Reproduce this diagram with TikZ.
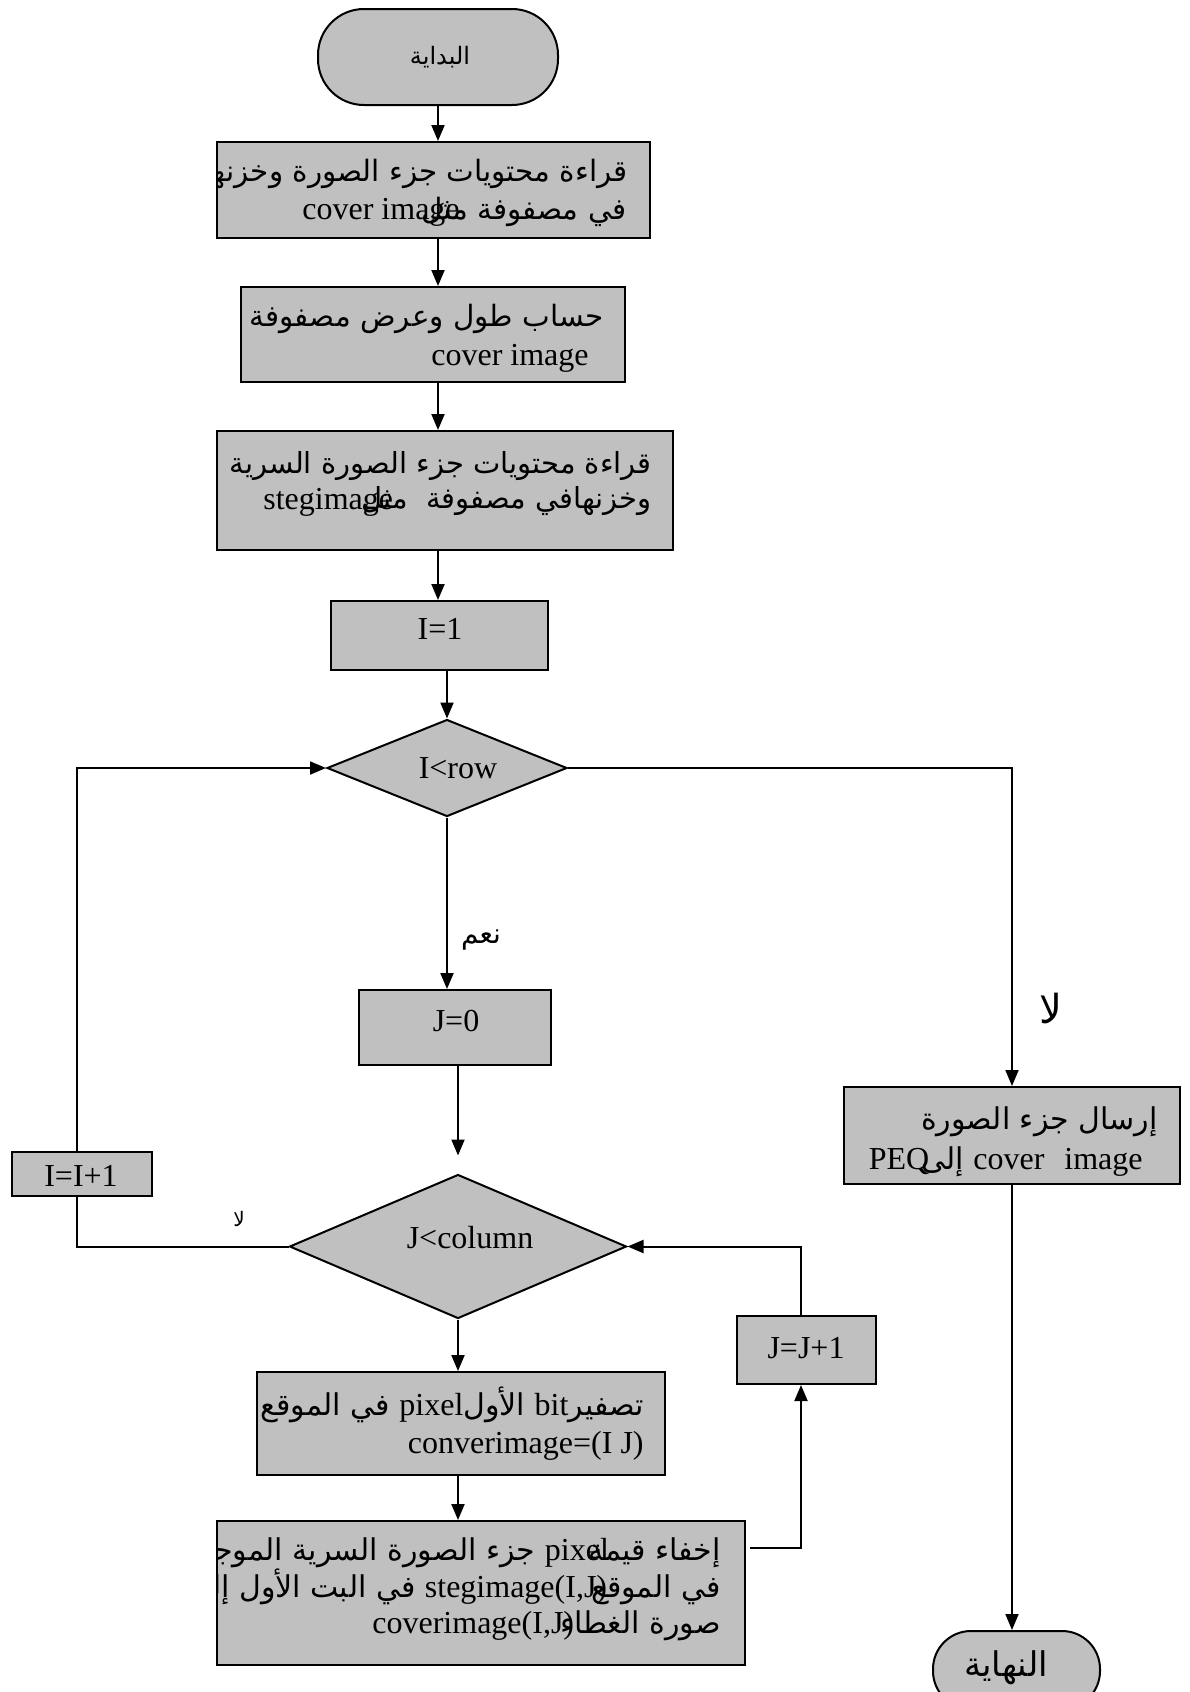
\documentclass[tikz,border=0pt]{standalone}
\usepackage{fontspec}
\setmainfont{Liberation Serif}
\newfontfamily\arfont[Script=Arabic]{DejaVu Sans}
\TeXXeTstate=1
\usetikzlibrary{arrows.meta,shapes.geometric}
\definecolor{boxgray}{RGB}{192,192,192}
\newcommand\arsz[1]{\arfont\fontsize{#1}{#1}\selectfont}
\newcommand\lasz[1]{\rmfamily\fontsize{#1}{#1}\selectfont}
\newcommand\LT[2][16]{\beginL{\lasz{#1}#2}\endL}
\begin{document}
\begin{tikzpicture}[x=0.5pt,y=-0.5pt,
  box/.style={draw,line width=1pt,fill=boxgray,rectangle,inner sep=0pt},
  dia/.style={draw,line width=1pt,fill=boxgray,diamond,inner sep=0pt},
  conn/.style={line width=1pt},
  arr/.style={conn,-{Triangle[length=8pt,width=6.5pt]}},
  txt/.style={inner sep=0pt},
  ar/.style={txt,font=\arsz{15}},
  la/.style={txt,font=\lasz{16}},
]
\useasboundingbox (0,0) rectangle (1189,1692);

% ---------- shapes ----------
\node[box,rounded corners=23pt,minimum width=120pt,minimum height=48pt] (start) at (438,57) {};
\node[box,minimum width=216.5pt,minimum height=48pt] (b1) at (433.5,190) {};
\node[box,minimum width=192pt,minimum height=47.5pt] (b2) at (433,334.5) {};
\node[box,minimum width=228pt,minimum height=59.5pt] (b3) at (445,490.5) {};
\node[box,minimum width=108.5pt,minimum height=34.5pt] (i1) at (439.5,635.5) {};
\node[dia,minimum width=120pt,minimum height=48.5pt] (d1) at (447,768) {};
\node[box,minimum width=96pt,minimum height=37.5pt] (j0) at (455,1027.5) {};
\node[dia,minimum width=168.5pt,minimum height=72pt] (d2) at (458,1246.5) {};
\node[box,minimum width=70pt,minimum height=22pt] (ii) at (82,1174) {};
\node[box,minimum width=69.5pt,minimum height=34pt] (jj) at (806.5,1350) {};
\node[box,minimum width=204pt,minimum height=51.5pt] (b5) at (461,1423.5) {};
\node[box,minimum width=264pt,minimum height=72pt] (b6) at (481,1593) {};
\node[box,minimum width=168pt,minimum height=48.5pt] (peq) at (1012,1135.5) {};
\node[box,rounded corners=19pt,minimum width=83.5pt,minimum height=39pt] (end) at (1016.5,1670) {};

% ---------- texts ----------
\node[txt,font=\arsz{12}] (tstart) at (440,57) {\beginR البداية\endR};
\node[txt,font=\arsz{17}] (tend) at (1006,1668) {\beginR النهاية\endR};

\begin{scope}
\clip (b1.south west) rectangle (b1.north east);
\node[txt,font=\arsz{14.7},anchor=base east] (t1a) at (628,181) {\beginR قراءة محتويات جزء الصورة وخزنها\endR};
\node[la,anchor=base west] (t1c) at (302,219) {cover image};
\node[txt,font=\arsz{14.7},anchor=base east] (t1b) at (627,219) {\beginR في مصفوفة مثل\endR};
\end{scope}

\node[txt,font=\arsz{14.7},anchor=base east] (t2a) at (604,326) {\beginR حساب طول وعرض مصفوفة\endR};
\node[la,anchor=base east] (t2b) at (589,365) {cover image};

\begin{scope}
\clip (b3.south west) rectangle (b3.north east);
\node[txt,font=\arsz{14.5},anchor=base east] (t3a) at (652,473) {\beginR قراءة محتويات جزء الصورة السرية\endR};
\node[la,anchor=base west] (t3c) at (263,509) {stegimage};
\node[txt,font=\arsz{14.5},anchor=base east] (t3b) at (652,508) {\beginR وخزنهافي مصفوفة\ \ مثل\endR};
\end{scope}

\node[la] (ti1) at (440,629) {I=1};
\node[la] (td1) at (458,768) {I<row};
\node[la] (tj0) at (456,1021) {J=0};
\node[la] (td2) at (470,1238) {J<column};
\node[la] (tii) at (81,1176) {I=I+1};
\node[la] (tjj) at (806,1348) {J=J+1};

\node[ar,anchor=base east] (tpa) at (1158,1129) {\beginR إرسال جزء الصورة\endR};
\node[ar,anchor=base east] (tpb) at (1143,1169) {\beginR\LT{cover\hskip 10pt image} إلى\kern-4pt\LT{PEQ}\endR};

\begin{scope}
\clip (b5.south west) rectangle (b5.north east);
\node[ar,anchor=base east] (t5a) at (644,1415) {\beginR تصفير\LT{bit} الأول\LT{pixel} في الموقع\endR};
\node[la,anchor=base east] (t5b) at (644,1453) {converimage=(I J)};
\end{scope}

\begin{scope}
\clip (b6.south west) rectangle (b6.north east);
\node[ar,anchor=base east] (t6a) at (721,1560) {\beginR إخفاء قيمة\kern-10pt\LT{pixel} جزء الصورة السرية الموجودة\endR};
\node[ar,anchor=base east] (t6b) at (721,1597) {\beginR في الموقع\kern-8pt\LT{stegimage(I,J)} في البت الأول إلى\endR};
\node[ar,anchor=base east] (t6c) at (721,1633) {\beginR صورة الغطاء\kern-7pt\LT{coverimage(I,J)}\endR};
\end{scope}

\node[txt,font=\arsz{14}] (yes) at (481,940) {\beginR نعم\endR};
\node[txt,font=\arsz{20}] (no1) at (1051,1008) {\beginR لا\endR};
\node[txt,font=\arsz{10}] (no2) at (239,1219) {\beginR لا\endR};

% ---------- connectors ----------
\coordinate (ca) at (77,1246.5);
\coordinate (cb) at (77,768);
\coordinate (c6) at (750,1548);
\coordinate (cx) at (801,1246.5);

\draw[arr] (start.south) -- (start.south |- b1.north);
\draw[arr] (b1.south -| start.south) -- (b2.north -| start.south);
\draw[arr] (b2.south -| start.south) -- (b3.north -| start.south);
\draw[arr] (b3.south -| start.south) -- (i1.north -| start.south);
\draw[arr] (d1.north |- i1.south) -- (d1.north);
\draw[arr] (d1.south) -- (d1.south |- j0.north);
\draw[arr] (d1.east) -| (peq.north);
\draw[arr,shorten >=9pt] (d2.north |- j0.south) -- (d2.north);
\draw[conn] (d2.west) -- (ca) -- (ca |- ii.south);
\draw[arr] (ca |- ii.north) -- (cb) -- (d1.west);
\draw[arr] (d2.south) -- (d2.south |- b5.north);
\draw[arr] (b5.south -| d2.south) -- (b6.north -| d2.south);
\draw[arr] (c6) -| (cx |- jj.south);
\draw[arr] (cx |- jj.north) -- (cx) -- (d2.east);
\draw[arr] (peq.south) -- (peq.south |- end.north);
\end{tikzpicture}
\end{document}
